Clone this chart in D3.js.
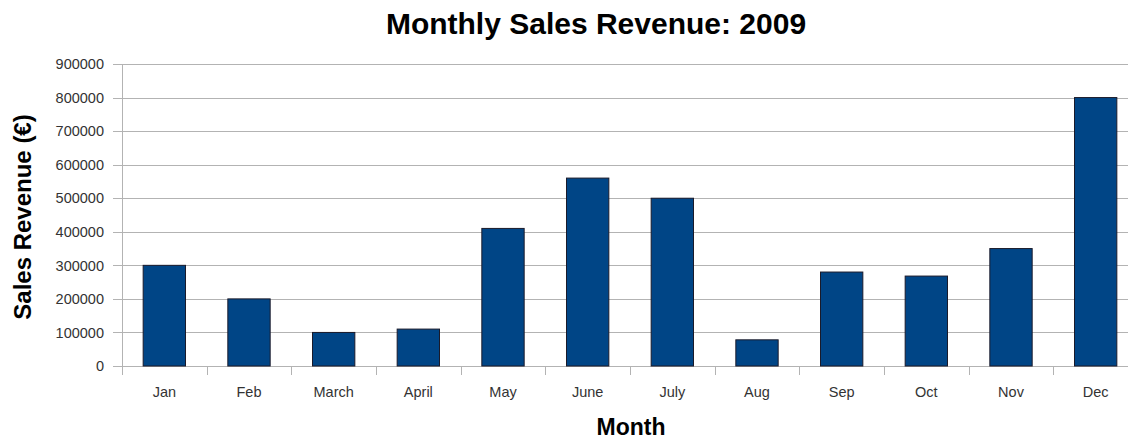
<!DOCTYPE html>
<html>
<head>
<meta charset="utf-8">
<script src="https://cdn.jsdelivr.net/npm/d3@7"></script>
<style>
  body { margin: 0; background: #fff; }
  text { font-family: "Liberation Sans", Arial, sans-serif; }
</style>
</head>
<body>
<div id="chart"></div>
<script>
// data
let months = ['Jan','Feb','March','April','May','June','July','Aug','Sep','Oct','Nov','Dec'];
let revenue = [300000, 200000, 100000, 110000, 410000, 560000, 500000, 78000, 280000, 268000, 350000, 800000];
let yTicks = [0,100000,200000,300000,400000,500000,600000,700000,800000,900000];

let width = 1128, height = 441;
let plotLeft = 122, plotRight = 1138, plotTop = 64, plotBottom = 366;

let svg = d3.select('#chart').append('svg')
  .attr('width', width)
  .attr('height', height);

let x = d3.scaleBand()
  .domain(months)
  .range([plotLeft, plotRight])
  .paddingInner(0.5)
  .paddingOuter(0.25);

let y = d3.scaleLinear()
  .domain([0, 900000])
  .range([plotBottom, plotTop]);

// gridlines
svg.append('g')
  .selectAll('line')
  .data(yTicks)
  .enter()
  .append('line')
  .attr('x1', plotLeft - 9)
  .attr('x2', width)
  .attr('y1', d => Math.round(y(d)) + 0.5)
  .attr('y2', d => Math.round(y(d)) + 0.5)
  .attr('stroke', '#b3b3b3');

// y axis line
svg.append('line')
  .attr('x1', plotLeft + 0.5).attr('x2', plotLeft + 0.5)
  .attr('y1', plotTop).attr('y2', plotBottom + 9)
  .attr('stroke', '#b3b3b3');

// y labels
svg.append('g')
  .selectAll('text')
  .data(yTicks)
  .enter()
  .append('text')
  .attr('x', plotLeft - 18)
  .attr('y', d => y(d))
  .attr('dy', '0.36em')
  .attr('text-anchor', 'end')
  .attr('font-size', 14.5)
  .attr('fill', '#333')
  .text(d => d);

// x tick marks at band boundaries
let bounds = d3.range(months.length + 1).map(i => plotLeft + i * x.step());
svg.append('g')
  .selectAll('line')
  .data(bounds)
  .enter()
  .append('line')
  .attr('x1', d => Math.round(d) + 0.5)
  .attr('x2', d => Math.round(d) + 0.5)
  .attr('y1', plotBottom)
  .attr('y2', plotBottom + 9)
  .attr('stroke', '#b3b3b3');

// bars
svg.append('g')
  .selectAll('rect')
  .data(revenue)
  .enter()
  .append('rect')
  .attr('x', (d, i) => x(months[i]))
  .attr('y', d => y(d))
  .attr('width', x.bandwidth())
  .attr('height', d => plotBottom - y(d))
  .attr('fill', '#004586')
  .attr('stroke', '#1a1a2a')
  .attr('stroke-width', 1);

// x labels
svg.append('g')
  .selectAll('text')
  .data(months)
  .enter()
  .append('text')
  .attr('x', d => x(d) + x.bandwidth() / 2)
  .attr('y', 397)
  .attr('text-anchor', 'middle')
  .attr('font-size', 14.5)
  .attr('fill', '#333')
  .text(d => d);

// titles
svg.append('text')
  .attr('x', 596).attr('y', 34)
  .attr('text-anchor', 'middle')
  .attr('font-size', 30)
  .attr('font-weight', 'bold')
  .text('Monthly Sales Revenue: 2009');

svg.append('text')
  .attr('x', 631).attr('y', 435)
  .attr('text-anchor', 'middle')
  .attr('font-size', 23)
  .attr('font-weight', 'bold')
  .text('Month');

svg.append('text')
  .attr('transform', 'translate(31,217) rotate(-90)')
  .attr('text-anchor', 'middle')
  .attr('font-size', 24)
  .attr('font-weight', 'bold')
  .text('Sales Revenue (€)');
</script>
</body>
</html>
